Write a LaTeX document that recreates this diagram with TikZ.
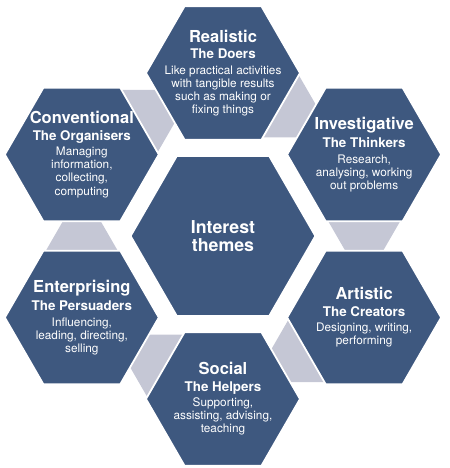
\documentclass[tikz,border=0pt]{standalone}
\usepackage{fontspec}
\setmainfont{TeX Gyre Heros}
\usetikzlibrary{shapes.geometric}

\definecolor{hexblue}{RGB}{62,88,127}
\definecolor{linkgray}{RGB}{197,199,213}

\newcommand{\hexTitle}[1]{{\fontsize{9.4}{9.6}\selectfont\bfseries #1}}
\newcommand{\hexSub}[1]{{\fontsize{7.6}{8}\selectfont\bfseries #1}}

\begin{document}
\begin{tikzpicture}[x=0.02cm, y=0.02cm, line join=round]

% --- Global TikZ Styles ---
\tikzset{
    themehex/.style={
        regular polygon,
        regular polygon sides=6,
        minimum size=3.08cm,
        inner sep=0pt,
        outer sep=0pt,
        fill=hexblue,
        draw=white,
        line width=1pt
    },
    corehex/.style={
        themehex,
        minimum size=3.696cm
    },
    linkpiece/.style={
        fill=linkgray
    },
    themetext/.style={
        text=white,
        align=center,
        font=\fontsize{6.7}{7.5}\selectfont
    },
    coretext/.style={
        text=white,
        align=center,
        font=\fontsize{10.1}{10.2}\selectfont\bfseries
    }
}

\useasboundingbox (-223,-232) rectangle (227,236);

\pgfmathsetmacro{\ringDist}{163}

% --- Grey links between neighbouring hexagons ---
\foreach \turn in {0,60,...,300}{
    \fill[linkpiece, rotate=\turn]
        (105.2,14.8) -- (177.2,14.8) -- (160.1,-14.8) -- (122.3,-14.8) -- cycle;
}

% --- Hexagons ---
\node[corehex] (interest) at (0,0) {};

\node[themehex] (realistic)     at (90:\ringDist)  {};
\node[themehex] (investigative) at (30:\ringDist)  {};
\node[themehex] (artistic)      at (-30:\ringDist) {};
\node[themehex] (social)        at (-90:\ringDist) {};
\node[themehex] (enterprising)  at (210:\ringDist) {};
\node[themehex] (conventional)  at (150:\ringDist) {};

% --- Labels ---
\node[coretext] (interest-label) at (interest) {Interest\\ themes};

\node[themetext] (realistic-label) at (realistic)
    {\hexTitle{Realistic}\\[1.9pt] \hexSub{The Doers}\\[1.2pt]
     Like practical activities\\ with tangible results\\ such as making or\\ fixing things};

\node[themetext] (investigative-label) at (investigative)
    {\hexTitle{Investigative}\\[1.9pt] \hexSub{The Thinkers}\\[1.2pt]
     Research,\\ analysing, working\\ out problems};

\node[themetext] (artistic-label) at (artistic)
    {\hexTitle{Artistic}\\[1.9pt] \hexSub{The Creators}\\[1.2pt]
     Designing, writing,\\ performing};

\node[themetext] (social-label) at (social)
    {\hexTitle{Social}\\[1.9pt] \hexSub{The Helpers}\\[1.2pt]
     Supporting,\\ assisting, advising,\\ teaching};

\node[themetext] (enterprising-label) at (enterprising)
    {\hexTitle{Enterprising}\\[1.9pt] \hexSub{The Persuaders}\\[1.2pt]
     Influencing,\\ leading, directing,\\ selling};

\node[themetext] (conventional-label) at (conventional)
    {\hexTitle{Conventional}\\[1.9pt] \hexSub{The Organisers}\\[1.2pt]
     Managing\\ information,\\ collecting,\\ computing};

\end{tikzpicture}
\end{document}
